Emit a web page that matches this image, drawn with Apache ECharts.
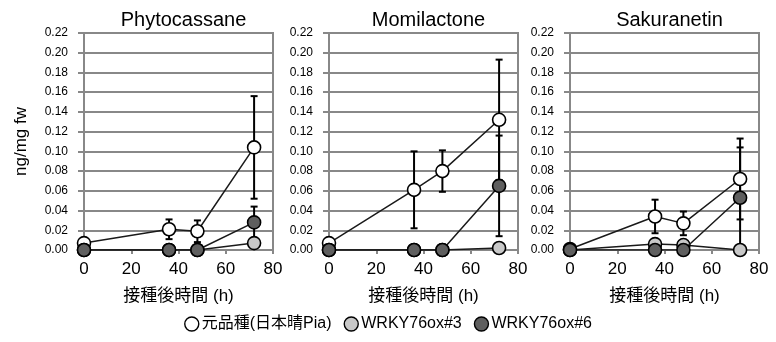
<!DOCTYPE html>
<html>
<head>
<meta charset="utf-8">
<script src="https://cdn.jsdelivr.net/npm/echarts@6/dist/echarts.min.js"></script>
<style>html,body{margin:0;padding:0;background:#fff}#c{width:776px;height:342px}</style>
</head>
<body>
<div id="c"></div>
<script>
// ---- data ----
const hours = [0, 36, 48, 72];
const panelTitles = ['Phytocassane', 'Momilactone', 'Sakuranetin'];
const seriesNames = ['元品種(日本晴Pia)', 'WRKY76ox#3', 'WRKY76ox#6'];
const yTicks = [0, 0.02, 0.04, 0.06, 0.08, 0.10, 0.12, 0.14, 0.16, 0.18, 0.20, 0.22];
const xTicks = [0, 20, 40, 60, 80];

// Phytocassane
const phytoWT = [0.007, 0.021, 0.019, 0.104];
const phytoWTErr = [0, 0.010, 0.011, 0.052];
const phytoOx3 = [0, 0, 0, 0.007];
const phytoOx3Err = [0, 0, 0, 0];
const phytoOx6 = [0, 0, 0, 0.028];
const phytoOx6Err = [0, 0, 0, 0.016];
// Momilactone
const momiWT = [0.007, 0.061, 0.080, 0.132];
const momiWTErr = [0, 0.039, 0.021, 0.061];
const momiOx3 = [0, 0, 0, 0.002];
const momiOx3Err = [0, 0, 0, 0];
const momiOx6 = [0, 0, 0, 0.065];
const momiOx6Err = [0, 0, 0, 0.051];
// Sakuranetin
const sakuWT = [0.001, 0.034, 0.027, 0.072];
const sakuWTErr = [0, 0.017, 0.012, 0.041];
const sakuOx3 = [0, 0.006, 0.005, 0];
const sakuOx3Err = [0, 0, 0, 0];
const sakuOx6 = [0, 0, 0, 0.053];
const sakuOx6Err = [0, 0, 0, 0.051];

const panelValues = [
  [[phytoWT, phytoWTErr], [phytoOx3, phytoOx3Err], [phytoOx6, phytoOx6Err]],
  [[momiWT, momiWTErr], [momiOx3, momiOx3Err], [momiOx6, momiOx6Err]],
  [[sakuWT, sakuWTErr], [sakuOx3, sakuOx3Err], [sakuOx6, sakuOx6Err]]
];

// ---- styles ----
const FONT = "'Liberation Sans', 'Noto Sans CJK JP', sans-serif";
const fills = ['#ffffff', '#c8c8c8', '#5f5f5f'];
const gridLefts = [84, 329, 570];
const gridW = 189, gridTop = 33, gridH = 217;
const gray = '#888888';

const grids = [], xAxes = [], yAxes = [], series = [], titles = [];
for (let p = 0; p < 3; p++) {
  grids.push({left: gridLefts[p], top: gridTop, width: gridW, height: gridH,
    show: true, borderColor: gray, borderWidth: 2, backgroundColor: 'transparent'});
  titles.push({text: panelTitles[p], left: gridLefts[p] + gridW / 2, top: 5, textAlign: 'center',
    textStyle: {fontFamily: FONT, fontSize: 20, fontWeight: 'normal', color: '#000'}});
  xAxes.push({gridIndex: p, type: 'value', min: xTicks[0], max: xTicks[xTicks.length - 1], interval: 20,
    name: '接種後時間 (h)', nameLocation: 'middle', nameGap: 38,
    nameTextStyle: {fontFamily: FONT, fontSize: 17, color: '#000'},
    axisLine: {show: true, lineStyle: {color: gray, width: 2}},
    axisTick: {show: true, length: 4, lineStyle: {color: gray, width: 2}},
    axisLabel: {fontFamily: FONT, fontSize: 17, color: '#000', margin: 11},
    splitLine: {show: false}});
  yAxes.push({gridIndex: p, type: 'value', min: yTicks[0], max: yTicks[yTicks.length - 1], interval: 0.02,
    name: p === 0 ? 'ng/mg fw' : '', nameLocation: 'middle', nameGap: 54, nameRotate: 90,
    nameTextStyle: {fontFamily: FONT, fontSize: 17, color: '#000'},
    axisLine: {show: true, lineStyle: {color: gray, width: 2}},
    axisTick: {show: true, length: 6, lineStyle: {color: gray, width: 2}},
    axisLabel: {fontFamily: FONT, fontSize: 12, color: '#000', margin: 16,
      formatter: v => v.toFixed(2)},
    splitLine: {show: true, lineStyle: {color: gray, width: 2}}});

  // error bars
  for (let s = 0; s < 3; s++) {
    const vals = panelValues[p][s][0], errs = panelValues[p][s][1];
    const ebData = [];
    hours.forEach((h, i) => { if (errs[i] > 0) ebData.push([h, vals[i] - errs[i], vals[i] + errs[i]]); });
    series.push({
      type: 'custom', xAxisIndex: p, yAxisIndex: p, z: 3, silent: true,
      encode: {x: 0, y: [1, 2]},
      data: ebData,
      renderItem: function (params, api) {
        const x = api.value(0);
        const lo = api.coord([x, api.value(1)]);
        const hi = api.coord([x, api.value(2)]);
        const cw = 3.5;
        const st = {stroke: '#000', lineWidth: 2};
        return {type: 'group', children: [
          {type: 'line', shape: {x1: lo[0], y1: lo[1], x2: hi[0], y2: hi[1]}, style: st},
          {type: 'line', shape: {x1: hi[0] - cw, y1: hi[1], x2: hi[0] + cw, y2: hi[1]}, style: st},
          {type: 'line', shape: {x1: lo[0] - cw, y1: lo[1], x2: lo[0] + cw, y2: lo[1]}, style: st}
        ]};
      }
    });
  }
  // lines with markers
  for (let s = 0; s < 3; s++) {
    const vals = panelValues[p][s][0];
    series.push({
      type: 'line', name: seriesNames[s], xAxisIndex: p, yAxisIndex: p, z: 5 + s,
      data: hours.map((h, i) => [h, vals[i]]),
      symbol: 'circle', symbolSize: 13, showAllSymbol: true,
      lineStyle: {color: '#1a1a1a', width: 1.5},
      itemStyle: {color: fills[s], borderColor: '#000', borderWidth: 1.6},
      animation: false
    });
  }
}

const chart = echarts.init(document.getElementById('c'), null, {renderer: 'canvas'});
chart.setOption({
  animation: false,
  backgroundColor: '#fff',
  title: titles,
  legend: {
    data: seriesNames.map(n => ({name: n, icon: 'circle'})),
    top: 311, left: 'center', itemWidth: 14, itemHeight: 14, itemGap: 12,
    textStyle: {fontFamily: FONT, fontSize: 16, color: '#000', padding: [0, 0, 0, -2]},
    itemStyle: {borderColor: '#000', borderWidth: 1.4}
  },
  grid: grids, xAxis: xAxes, yAxis: yAxes, series: series
});
</script>
</body>
</html>
